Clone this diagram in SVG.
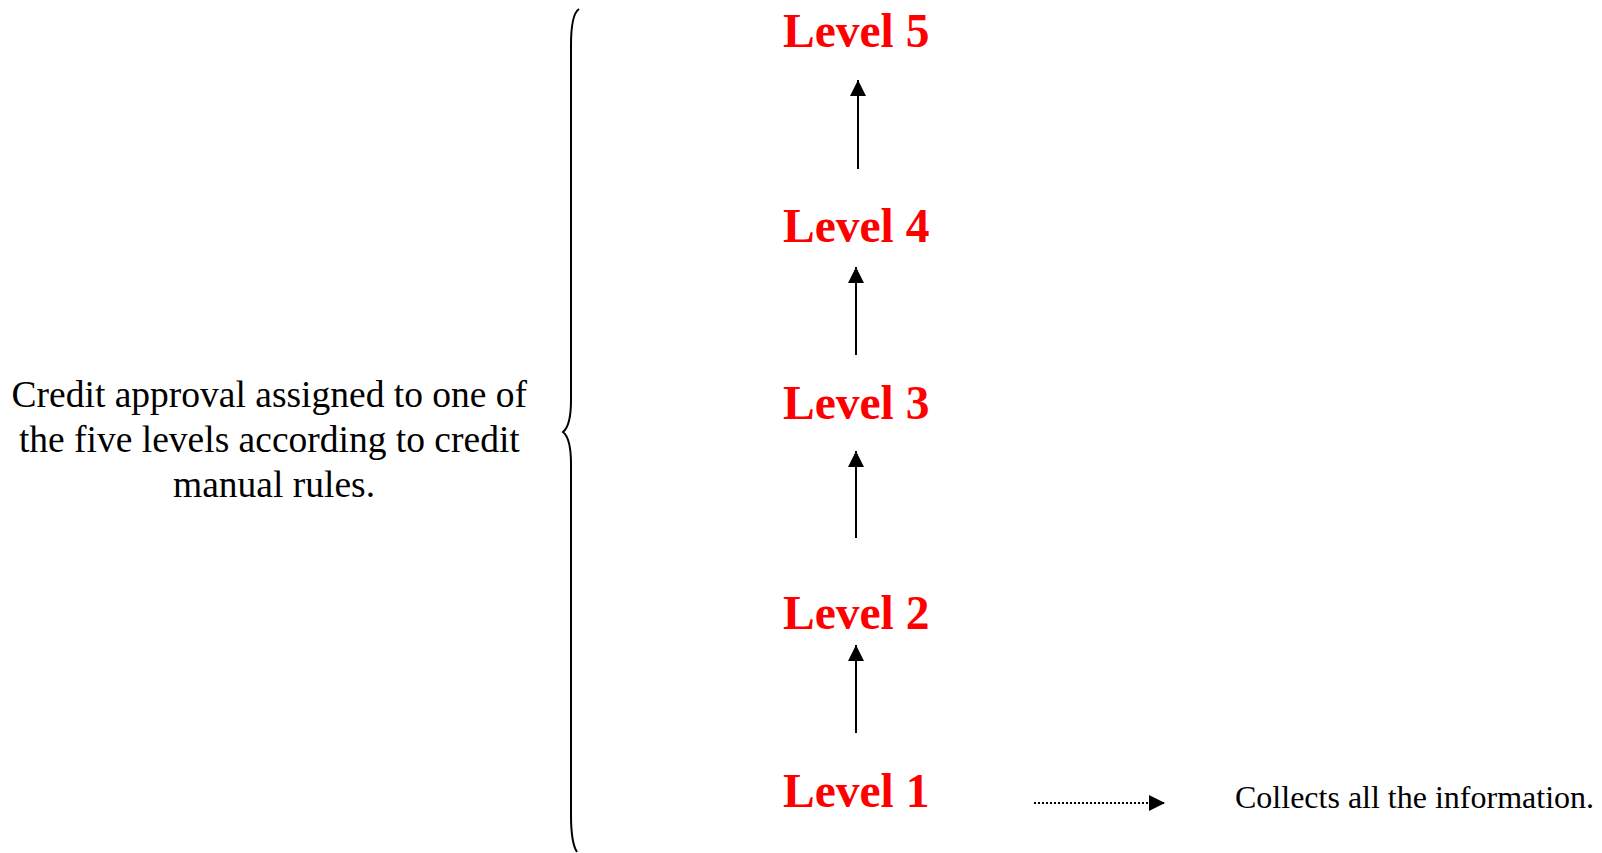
<svg xmlns="http://www.w3.org/2000/svg" width="1602" height="853" viewBox="0 0 1602 853">
  <style>
    .level { font-family: "Liberation Serif", "Times New Roman", serif; font-weight: bold; font-size: 47.5px; fill: #ff0000; }
    .note { font-family: "Liberation Serif", "Times New Roman", serif; font-size: 32px; fill: #000; }
    .side { font-family: "Liberation Serif", "Times New Roman", serif; font-size: 37.5px; fill: #000; text-anchor: middle; }
    .link { stroke: #000; stroke-width: 2; fill: none; }
    .dotted { stroke: #000; stroke-width: 2; stroke-dasharray: 2 2; fill: none; }
  </style>
  <defs>
    <marker id="head" viewBox="0 0 16 16" refX="16" refY="8" markerWidth="16" markerHeight="16" markerUnits="userSpaceOnUse" orient="auto">
      <path d="M0,0 L16,8 L0,16 Z" fill="#000"/>
    </marker>
  </defs>
  <rect width="1602" height="853" fill="#fff"/>

  <g id="caption">
    <text class="side">
      <tspan x="274" y="407">Credit approval assigned to one of</tspan>
      <tspan x="274" y="452">the five levels according to credit</tspan>
      <tspan x="274" y="497">manual rules.</tspan>
    </text>
  </g>

  <g id="brace">
    <path class="link" d="M579,9 C573,13 571,25 571,45 L571,400 C571,420 568,428 563,432 C568,436 571,444 571,464 L571,815 C571,835 573,846 577,852"/>
  </g>

  <g id="level5"><text class="level" x="783" y="47">Level 5</text></g>
  <g id="level4"><text class="level" x="783" y="242">Level 4</text></g>
  <g id="level3"><text class="level" x="783" y="419">Level 3</text></g>
  <g id="level2"><text class="level" x="783" y="629">Level 2</text></g>
  <g id="level1"><text class="level" x="783" y="807">Level 1</text></g>
  <g id="info"><text class="note" x="1235" y="808">Collects all the information.</text></g>

  <g id="connectors">
    <line class="link" x1="858" y1="169" x2="858" y2="80" marker-end="url(#head)"/>
    <line class="link" x1="856" y1="355" x2="856" y2="267" marker-end="url(#head)"/>
    <line class="link" x1="856" y1="538" x2="856" y2="451" marker-end="url(#head)"/>
    <line class="link" x1="856" y1="733" x2="856" y2="645" marker-end="url(#head)"/>
    <line class="dotted" x1="1034" y1="803" x2="1165" y2="803" marker-end="url(#head)"/>
  </g>
</svg>
